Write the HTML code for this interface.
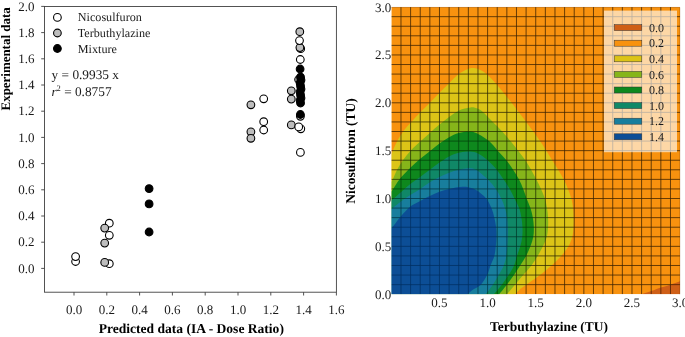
<!DOCTYPE html>
<html><head><meta charset="utf-8"><title>Figure</title>
<style>
html,body{margin:0;padding:0;background:#fff;}
body{width:685px;height:337px;overflow:hidden;font-family:"Liberation Serif",serif;}
</style></head>
<body>
<svg width="685" height="337" viewBox="0 0 685 337" style="display:block;font-family:'Liberation Serif', serif;will-change:transform;text-rendering:geometricPrecision">
<rect x="0" y="0" width="685" height="337" fill="#ffffff"/>
<g stroke="#404040" stroke-width="0.9" fill="none">
<rect x="44.5" y="6.45" width="291.90" height="285.75"/>
<line x1="41.20" y1="268.40" x2="44.5" y2="268.40"/>
<line x1="41.20" y1="242.20" x2="44.5" y2="242.20"/>
<line x1="41.20" y1="216.00" x2="44.5" y2="216.00"/>
<line x1="41.20" y1="189.80" x2="44.5" y2="189.80"/>
<line x1="41.20" y1="163.60" x2="44.5" y2="163.60"/>
<line x1="41.20" y1="137.40" x2="44.5" y2="137.40"/>
<line x1="41.20" y1="111.20" x2="44.5" y2="111.20"/>
<line x1="41.20" y1="85.00" x2="44.5" y2="85.00"/>
<line x1="41.20" y1="58.80" x2="44.5" y2="58.80"/>
<line x1="41.20" y1="32.60" x2="44.5" y2="32.60"/>
<line x1="41.20" y1="6.40" x2="44.5" y2="6.40"/>
<line x1="74.00" y1="292.2" x2="74.00" y2="295.50"/>
<line x1="106.80" y1="292.2" x2="106.80" y2="295.50"/>
<line x1="139.60" y1="292.2" x2="139.60" y2="295.50"/>
<line x1="172.40" y1="292.2" x2="172.40" y2="295.50"/>
<line x1="205.20" y1="292.2" x2="205.20" y2="295.50"/>
<line x1="238.00" y1="292.2" x2="238.00" y2="295.50"/>
<line x1="270.80" y1="292.2" x2="270.80" y2="295.50"/>
<line x1="303.60" y1="292.2" x2="303.60" y2="295.50"/>
<line x1="336.40" y1="292.2" x2="336.40" y2="295.50"/>
</g>
<g fill="#1a1a1a" font-size="13px">
<text x="34.4" y="272.55" text-anchor="end">0.0</text>
<text x="34.4" y="246.35" text-anchor="end">0.2</text>
<text x="34.4" y="220.15" text-anchor="end">0.4</text>
<text x="34.4" y="193.95" text-anchor="end">0.6</text>
<text x="34.4" y="167.75" text-anchor="end">0.8</text>
<text x="34.4" y="141.55" text-anchor="end">1.0</text>
<text x="34.4" y="115.35" text-anchor="end">1.2</text>
<text x="34.4" y="89.15" text-anchor="end">1.4</text>
<text x="34.4" y="62.95" text-anchor="end">1.6</text>
<text x="34.4" y="36.75" text-anchor="end">1.8</text>
<text x="34.4" y="10.55" text-anchor="end">2.0</text>
<text x="74.00" y="314.4" text-anchor="middle">0.0</text>
<text x="106.80" y="314.4" text-anchor="middle">0.2</text>
<text x="139.60" y="314.4" text-anchor="middle">0.4</text>
<text x="172.40" y="314.4" text-anchor="middle">0.6</text>
<text x="205.20" y="314.4" text-anchor="middle">0.8</text>
<text x="238.00" y="314.4" text-anchor="middle">1.0</text>
<text x="270.80" y="314.4" text-anchor="middle">1.2</text>
<text x="303.60" y="314.4" text-anchor="middle">1.4</text>
<text x="336.40" y="314.4" text-anchor="middle">1.6</text>
</g>
<text x="191.3" y="332.9" text-anchor="middle" font-size="13.55px" font-weight="bold" fill="#000">Predicted data (IA - Dose Ratio)</text>
<text transform="translate(10.1,58.9) rotate(-90)" text-anchor="middle" font-size="12.95px" font-weight="bold" fill="#000">Experimental data</text>
<circle cx="57.40" cy="17.40" r="3.85" fill="#ffffff" stroke="#000" stroke-width="1.1"/>
<circle cx="57.40" cy="33.00" r="3.85" fill="#bdbdbd" stroke="#000" stroke-width="1.1"/>
<circle cx="57.40" cy="48.50" r="3.85" fill="#000000" stroke="#000" stroke-width="1.1"/>
<g fill="#1a1a1a" font-size="12.15px">
<text x="77.8" y="21.3">Nicosulfuron</text>
<text x="77.8" y="36.9">Terbuthylazine</text>
<text x="77.8" y="52.9">Mixture</text>
</g>
<g fill="#1a1a1a" font-size="13.3px">
<text x="51.6" y="79.4">y = 0.9935 x</text>
<text x="51.4" y="95.8"><tspan font-style="italic">r</tspan><tspan font-size="8.5px" dy="-5">2</tspan><tspan dy="5"> = 0.8757</tspan></text>
</g>
<circle cx="75.60" cy="261.50" r="3.85" fill="#ffffff" stroke="#000" stroke-width="1.1"/>
<circle cx="75.60" cy="256.60" r="3.85" fill="#ffffff" stroke="#000" stroke-width="1.1"/>
<circle cx="109.30" cy="223.20" r="3.85" fill="#ffffff" stroke="#000" stroke-width="1.1"/>
<circle cx="104.70" cy="228.10" r="3.85" fill="#bdbdbd" stroke="#000" stroke-width="1.1"/>
<circle cx="109.30" cy="235.30" r="3.85" fill="#ffffff" stroke="#000" stroke-width="1.1"/>
<circle cx="104.70" cy="243.10" r="3.85" fill="#bdbdbd" stroke="#000" stroke-width="1.1"/>
<circle cx="109.30" cy="263.70" r="3.85" fill="#ffffff" stroke="#000" stroke-width="1.1"/>
<circle cx="104.70" cy="262.40" r="3.85" fill="#bdbdbd" stroke="#000" stroke-width="1.1"/>
<circle cx="149.10" cy="188.60" r="3.85" fill="#000000" stroke="#000" stroke-width="1.1"/>
<circle cx="149.10" cy="203.90" r="3.85" fill="#000000" stroke="#000" stroke-width="1.1"/>
<circle cx="149.10" cy="232.00" r="3.85" fill="#000000" stroke="#000" stroke-width="1.1"/>
<circle cx="250.90" cy="104.80" r="3.85" fill="#bdbdbd" stroke="#000" stroke-width="1.1"/>
<circle cx="250.90" cy="131.80" r="3.85" fill="#bdbdbd" stroke="#000" stroke-width="1.1"/>
<circle cx="250.90" cy="138.30" r="3.85" fill="#bdbdbd" stroke="#000" stroke-width="1.1"/>
<circle cx="263.70" cy="98.80" r="3.85" fill="#ffffff" stroke="#000" stroke-width="1.1"/>
<circle cx="263.70" cy="121.70" r="3.85" fill="#ffffff" stroke="#000" stroke-width="1.1"/>
<circle cx="263.70" cy="130.00" r="3.85" fill="#ffffff" stroke="#000" stroke-width="1.1"/>
<circle cx="291.30" cy="90.80" r="3.85" fill="#bdbdbd" stroke="#000" stroke-width="1.1"/>
<circle cx="291.30" cy="99.10" r="3.85" fill="#bdbdbd" stroke="#000" stroke-width="1.1"/>
<circle cx="291.30" cy="124.90" r="3.85" fill="#bdbdbd" stroke="#000" stroke-width="1.1"/>
<circle cx="300.40" cy="152.40" r="3.85" fill="#ffffff" stroke="#000" stroke-width="1.1"/>
<circle cx="300.80" cy="128.80" r="3.85" fill="#ffffff" stroke="#000" stroke-width="1.1"/>
<circle cx="298.70" cy="126.90" r="3.85" fill="#ffffff" stroke="#000" stroke-width="1.1"/>
<circle cx="300.40" cy="116.30" r="3.85" fill="#ffffff" stroke="#000" stroke-width="1.1"/>
<circle cx="300.70" cy="48.70" r="3.85" fill="#ffffff" stroke="#000" stroke-width="1.1"/>
<circle cx="299.90" cy="47.60" r="3.85" fill="#bdbdbd" stroke="#000" stroke-width="1.1"/>
<circle cx="299.50" cy="40.60" r="3.85" fill="#ffffff" stroke="#000" stroke-width="1.1"/>
<circle cx="299.80" cy="31.70" r="3.85" fill="#bdbdbd" stroke="#000" stroke-width="1.1"/>
<circle cx="300.30" cy="59.50" r="3.85" fill="#ffffff" stroke="#000" stroke-width="1.1"/>
<circle cx="298.60" cy="79.50" r="3.85" fill="#bdbdbd" stroke="#000" stroke-width="1.1"/>
<circle cx="300.40" cy="114.50" r="3.85" fill="#000000" stroke="#000" stroke-width="1.1"/>
<circle cx="300.10" cy="69.00" r="3.85" fill="#000000" stroke="#000" stroke-width="1.1"/>
<circle cx="300.55" cy="77.20" r="3.85" fill="#000000" stroke="#000" stroke-width="1.1"/>
<circle cx="301.00" cy="80.00" r="3.85" fill="#000000" stroke="#000" stroke-width="1.1"/>
<circle cx="300.10" cy="83.00" r="3.85" fill="#000000" stroke="#000" stroke-width="1.1"/>
<circle cx="300.55" cy="86.00" r="3.85" fill="#000000" stroke="#000" stroke-width="1.1"/>
<circle cx="301.00" cy="89.00" r="3.85" fill="#000000" stroke="#000" stroke-width="1.1"/>
<circle cx="300.10" cy="92.00" r="3.85" fill="#000000" stroke="#000" stroke-width="1.1"/>
<circle cx="300.55" cy="95.00" r="3.85" fill="#000000" stroke="#000" stroke-width="1.1"/>
<circle cx="301.00" cy="98.00" r="3.85" fill="#000000" stroke="#000" stroke-width="1.1"/>
<circle cx="300.10" cy="100.50" r="3.85" fill="#000000" stroke="#000" stroke-width="1.1"/>
<circle cx="300.55" cy="103.00" r="3.85" fill="#000000" stroke="#000" stroke-width="1.1"/>
<clipPath id="rc"><rect x="391.35" y="7.10" width="288.75" height="287.10"/></clipPath>
<g clip-path="url(#rc)">
<rect x="391.35" y="7.10" width="288.75" height="287.10" fill="#f8920f"/>
<path d="M391.35,154.48 C392.09,152.72 394.17,147.22 395.78,143.95 C397.38,140.68 399.23,137.60 400.98,134.86 C402.72,132.12 404.31,129.88 406.27,127.49 C408.23,125.10 410.39,123.02 412.72,120.50 C415.04,117.98 417.37,115.32 420.23,112.37 C423.08,109.42 426.64,106.07 429.85,102.80 C433.06,99.53 436.27,96.02 439.48,92.75 C442.68,89.48 445.89,86.29 449.10,83.18 C452.31,80.07 455.68,76.40 458.73,74.09 C461.77,71.78 464.90,70.31 467.39,69.30 C469.87,68.30 471.40,67.90 473.64,68.06 C475.89,68.22 478.70,69.26 480.86,70.26 C483.03,71.27 484.10,71.86 486.64,74.09 C489.17,76.32 493.18,80.47 496.07,83.66 C498.96,86.85 501.36,90.04 503.96,93.23 C506.56,96.42 509.18,99.61 511.66,102.80 C514.15,105.99 516.48,109.18 518.88,112.37 C521.29,115.56 523.69,118.75 526.10,121.94 C528.51,125.13 530.99,128.32 533.32,131.51 C535.64,134.70 537.89,137.89 540.06,141.08 C542.22,144.27 544.28,147.46 546.31,150.65 C548.35,153.84 550.31,157.03 552.28,160.22 C554.25,163.41 556.26,166.60 558.15,169.79 C560.04,172.98 562.00,176.17 563.64,179.36 C565.27,182.55 566.69,185.74 567.97,188.93 C569.25,192.12 570.49,195.31 571.34,198.50 C572.19,201.69 572.67,204.88 573.07,208.07 C573.47,211.26 573.66,214.45 573.74,217.64 C573.82,220.83 573.79,224.02 573.55,227.21 C573.31,230.40 573.15,233.59 572.30,236.78 C571.45,239.97 570.29,243.16 568.45,246.35 C566.61,249.54 564.04,252.73 561.23,255.92 C558.42,259.11 555.14,262.30 551.61,265.49 C548.08,268.68 544.47,271.71 540.06,275.06 C535.64,278.41 528.59,283.11 525.14,285.59 C521.69,288.06 521.05,288.46 519.36,289.89 C517.68,291.33 515.75,293.48 515.03,294.20 L391.35,294.20 Z" fill="#dcc417"/>
<path d="M391.35,182.23 C391.59,181.75 391.83,181.43 392.79,179.36 C393.76,177.29 395.44,172.98 397.12,169.79 C398.81,166.60 400.65,163.41 402.90,160.22 C405.15,157.03 407.71,153.76 410.60,150.65 C413.49,147.54 417.02,144.51 420.23,141.56 C423.43,138.61 426.64,135.77 429.85,132.95 C433.06,130.12 436.27,127.28 439.48,124.62 C442.68,121.96 445.89,119.29 449.10,116.96 C452.31,114.63 455.52,112.18 458.73,110.65 C461.93,109.12 465.78,108.32 468.35,107.78 C470.92,107.23 471.88,106.87 474.12,107.39 C476.37,107.92 478.70,108.51 481.83,110.93 C484.95,113.36 489.49,118.51 492.89,121.94 C496.29,125.37 499.31,128.32 502.23,131.51 C505.15,134.70 507.76,137.89 510.41,141.08 C513.06,144.27 515.62,147.46 518.11,150.65 C520.60,153.84 523.16,157.03 525.33,160.22 C527.50,163.41 529.29,166.60 531.11,169.79 C532.92,172.98 534.55,176.17 536.21,179.36 C537.86,182.55 539.57,185.74 541.02,188.93 C542.46,192.12 543.87,195.31 544.87,198.50 C545.86,201.69 546.46,204.88 546.99,208.07 C547.52,211.26 547.87,214.45 548.05,217.64 C548.22,220.83 548.25,224.02 548.05,227.21 C547.84,230.40 547.64,233.59 546.79,236.78 C545.94,239.97 544.47,243.16 542.94,246.35 C541.42,249.54 539.58,252.73 537.65,255.92 C535.73,259.11 533.80,262.30 531.39,265.49 C528.99,268.68 525.94,271.87 523.21,275.06 C520.49,278.25 517.76,281.44 515.03,284.63 C512.30,287.82 508.21,292.61 506.85,294.20 L391.35,294.20 Z" fill="#86b51a"/>
<path d="M391.35,191.80 C392.15,190.52 394.56,186.54 396.16,184.14 C397.77,181.75 398.57,180.24 400.98,177.45 C403.38,174.65 407.39,170.51 410.60,167.40 C413.81,164.29 417.02,161.50 420.23,158.78 C423.43,156.07 426.64,153.68 429.85,151.13 C433.06,148.58 436.27,145.79 439.48,143.47 C442.68,141.16 445.89,139.01 449.10,137.25 C452.31,135.50 455.20,133.90 458.73,132.95 C462.25,131.99 466.91,131.27 470.28,131.51 C473.64,131.75 475.81,132.79 478.94,134.38 C482.07,135.98 485.92,138.37 489.04,141.08 C492.17,143.79 494.82,147.46 497.71,150.65 C500.59,153.84 503.80,157.03 506.37,160.22 C508.94,163.41 511.02,166.60 513.11,169.79 C515.19,172.98 517.20,176.17 518.88,179.36 C520.57,182.55 521.93,185.74 523.21,188.93 C524.50,192.12 525.38,195.31 526.58,198.50 C527.78,201.69 529.39,204.88 530.43,208.07 C531.47,211.26 532.28,214.45 532.84,217.64 C533.40,220.83 533.72,224.02 533.80,227.21 C533.88,230.40 533.88,233.59 533.32,236.78 C532.76,239.97 531.63,243.16 530.43,246.35 C529.23,249.54 527.82,252.73 526.10,255.92 C524.38,259.11 522.15,262.30 520.13,265.49 C518.11,268.68 516.19,271.87 513.97,275.06 C511.76,278.25 509.32,281.44 506.85,284.63 C504.38,287.82 500.43,292.61 499.15,294.20 L391.35,294.20 Z" fill="#0e881d"/>
<path d="M391.35,200.41 C392.95,199.04 397.77,194.94 400.98,192.18 C404.18,189.42 407.39,186.39 410.60,183.86 C413.81,181.32 417.02,179.31 420.23,176.97 C423.43,174.62 426.64,172.18 429.85,169.79 C433.06,167.40 436.27,164.85 439.48,162.61 C442.68,160.38 445.89,158.02 449.10,156.39 C452.31,154.77 455.20,153.65 458.73,152.85 C462.25,152.05 467.07,151.50 470.28,151.61 C473.48,151.72 475.09,152.09 477.98,153.52 C480.86,154.96 484.47,157.51 487.60,160.22 C490.73,162.93 494.10,166.60 496.74,169.79 C499.39,172.98 501.32,176.17 503.48,179.36 C505.65,182.55 507.89,185.74 509.74,188.93 C511.58,192.12 512.98,195.31 514.55,198.50 C516.12,201.69 518.02,204.88 519.17,208.07 C520.33,211.26 520.93,214.45 521.48,217.64 C522.03,220.83 522.31,224.02 522.44,227.21 C522.57,230.40 522.60,233.59 522.25,236.78 C521.90,239.97 521.21,243.16 520.33,246.35 C519.44,249.54 518.00,252.73 516.96,255.92 C515.91,259.11 515.46,262.30 514.07,265.49 C512.67,268.68 510.62,271.87 508.58,275.06 C506.55,278.25 504.30,281.44 501.85,284.63 C499.39,287.82 495.19,292.61 493.86,294.20 L391.35,294.20 Z" fill="#108867"/>
<path d="M391.35,209.22 C392.95,207.94 397.77,203.95 400.98,201.56 C404.18,199.17 407.39,196.97 410.60,194.86 C413.81,192.76 417.02,191.04 420.23,188.93 C423.43,186.82 426.64,184.22 429.85,182.23 C433.06,180.24 436.27,178.56 439.48,176.97 C442.68,175.37 445.89,173.86 449.10,172.66 C452.31,171.46 455.52,170.54 458.73,169.79 C461.93,169.04 465.46,168.16 468.35,168.16 C471.24,168.16 472.84,167.92 476.05,169.79 C479.26,171.66 484.31,176.17 487.60,179.36 C490.89,182.55 493.50,185.74 495.78,188.93 C498.06,192.12 499.74,195.31 501.27,198.50 C502.79,201.69 503.95,204.88 504.93,208.07 C505.90,211.26 506.66,214.45 507.14,217.64 C507.62,220.83 507.70,224.02 507.81,227.21 C507.92,230.40 507.89,233.59 507.81,236.78 C507.73,239.97 507.57,243.16 507.33,246.35 C507.09,249.54 506.96,252.73 506.37,255.92 C505.78,259.11 505.05,262.30 503.77,265.49 C502.49,268.68 500.48,271.87 498.67,275.06 C496.86,278.25 495.06,281.44 492.89,284.63 C490.73,287.82 486.88,292.61 485.68,294.20 L391.35,294.20 Z" fill="#187e9d"/>
<path d="M391.35,228.45 C392.09,227.53 394.17,224.93 395.78,222.90 C397.38,220.88 398.50,219.06 400.98,216.30 C403.45,213.54 407.39,208.92 410.60,206.35 C413.81,203.78 417.02,202.60 420.23,200.89 C423.43,199.19 426.64,197.62 429.85,196.11 C433.06,194.59 436.27,193.00 439.48,191.80 C442.68,190.60 445.25,189.76 449.10,188.93 C452.95,188.10 459.05,187.02 462.58,186.82 C466.10,186.63 467.95,187.19 470.28,187.78 C472.60,188.37 473.88,188.58 476.53,190.37 C479.18,192.15 483.67,195.55 486.16,198.50 C488.64,201.45 490.09,204.88 491.45,208.07 C492.81,211.26 493.57,214.45 494.34,217.64 C495.11,220.83 495.72,224.02 496.07,227.21 C496.42,230.40 496.50,233.59 496.46,236.78 C496.41,239.97 496.13,243.16 495.78,246.35 C495.43,249.54 495.22,252.73 494.34,255.92 C493.46,259.11 491.69,262.30 490.49,265.49 C489.28,268.68 488.72,271.87 487.12,275.06 C485.51,278.25 483.19,282.24 480.86,284.63 C478.54,287.02 475.41,287.82 473.16,289.41 C470.92,291.01 468.35,293.40 467.39,294.20 L391.35,294.20 Z" fill="#0c4e96"/>
<path d="M642.08,294.20 C643.61,293.67 647.94,292.21 651.23,291.04 C654.51,289.88 658.76,288.23 661.81,287.21 C664.86,286.19 666.46,285.91 669.51,284.92 C672.56,283.93 678.34,281.89 680.10,281.28 L680.10,294.20 Z" fill="#cf5f17"/>
<g stroke="#282828" stroke-opacity="0.92" stroke-width="0.85" style="mix-blend-mode:luminosity">
<line x1="400.98" y1="7.10" x2="400.98" y2="294.20"/>
<line x1="410.60" y1="7.10" x2="410.60" y2="294.20"/>
<line x1="420.23" y1="7.10" x2="420.23" y2="294.20"/>
<line x1="429.85" y1="7.10" x2="429.85" y2="294.20"/>
<line x1="439.48" y1="7.10" x2="439.48" y2="294.20"/>
<line x1="449.10" y1="7.10" x2="449.10" y2="294.20"/>
<line x1="458.73" y1="7.10" x2="458.73" y2="294.20"/>
<line x1="468.35" y1="7.10" x2="468.35" y2="294.20"/>
<line x1="477.98" y1="7.10" x2="477.98" y2="294.20"/>
<line x1="487.60" y1="7.10" x2="487.60" y2="294.20"/>
<line x1="497.23" y1="7.10" x2="497.23" y2="294.20"/>
<line x1="506.85" y1="7.10" x2="506.85" y2="294.20"/>
<line x1="516.48" y1="7.10" x2="516.48" y2="294.20"/>
<line x1="526.10" y1="7.10" x2="526.10" y2="294.20"/>
<line x1="535.73" y1="7.10" x2="535.73" y2="294.20"/>
<line x1="545.35" y1="7.10" x2="545.35" y2="294.20"/>
<line x1="554.98" y1="7.10" x2="554.98" y2="294.20"/>
<line x1="564.60" y1="7.10" x2="564.60" y2="294.20"/>
<line x1="574.23" y1="7.10" x2="574.23" y2="294.20"/>
<line x1="583.85" y1="7.10" x2="583.85" y2="294.20"/>
<line x1="593.48" y1="7.10" x2="593.48" y2="294.20"/>
<line x1="603.10" y1="7.10" x2="603.10" y2="294.20"/>
<line x1="612.73" y1="7.10" x2="612.73" y2="294.20"/>
<line x1="622.35" y1="7.10" x2="622.35" y2="294.20"/>
<line x1="631.98" y1="7.10" x2="631.98" y2="294.20"/>
<line x1="641.60" y1="7.10" x2="641.60" y2="294.20"/>
<line x1="651.23" y1="7.10" x2="651.23" y2="294.20"/>
<line x1="660.85" y1="7.10" x2="660.85" y2="294.20"/>
<line x1="670.48" y1="7.10" x2="670.48" y2="294.20"/>
<line x1="391.35" y1="284.63" x2="680.10" y2="284.63"/>
<line x1="391.35" y1="275.06" x2="680.10" y2="275.06"/>
<line x1="391.35" y1="265.49" x2="680.10" y2="265.49"/>
<line x1="391.35" y1="255.92" x2="680.10" y2="255.92"/>
<line x1="391.35" y1="246.35" x2="680.10" y2="246.35"/>
<line x1="391.35" y1="236.78" x2="680.10" y2="236.78"/>
<line x1="391.35" y1="227.21" x2="680.10" y2="227.21"/>
<line x1="391.35" y1="217.64" x2="680.10" y2="217.64"/>
<line x1="391.35" y1="208.07" x2="680.10" y2="208.07"/>
<line x1="391.35" y1="198.50" x2="680.10" y2="198.50"/>
<line x1="391.35" y1="188.93" x2="680.10" y2="188.93"/>
<line x1="391.35" y1="179.36" x2="680.10" y2="179.36"/>
<line x1="391.35" y1="169.79" x2="680.10" y2="169.79"/>
<line x1="391.35" y1="160.22" x2="680.10" y2="160.22"/>
<line x1="391.35" y1="150.65" x2="680.10" y2="150.65"/>
<line x1="391.35" y1="141.08" x2="680.10" y2="141.08"/>
<line x1="391.35" y1="131.51" x2="680.10" y2="131.51"/>
<line x1="391.35" y1="121.94" x2="680.10" y2="121.94"/>
<line x1="391.35" y1="112.37" x2="680.10" y2="112.37"/>
<line x1="391.35" y1="102.80" x2="680.10" y2="102.80"/>
<line x1="391.35" y1="93.23" x2="680.10" y2="93.23"/>
<line x1="391.35" y1="83.66" x2="680.10" y2="83.66"/>
<line x1="391.35" y1="74.09" x2="680.10" y2="74.09"/>
<line x1="391.35" y1="64.52" x2="680.10" y2="64.52"/>
<line x1="391.35" y1="54.95" x2="680.10" y2="54.95"/>
<line x1="391.35" y1="45.38" x2="680.10" y2="45.38"/>
<line x1="391.35" y1="35.81" x2="680.10" y2="35.81"/>
<line x1="391.35" y1="26.24" x2="680.10" y2="26.24"/>
<line x1="391.35" y1="16.67" x2="680.10" y2="16.67"/>
</g>
</g>
<path d="M391.35,7.40 H679.80 V294.20" fill="none" stroke="#6a3000" stroke-opacity="0.35" stroke-width="0.8"/>
<rect x="604" y="10.6" width="73" height="141.6" fill="#ffffff" fill-opacity="0.63"/>
<g font-size="12px" fill="#1a1a1a">
<rect x="614.2" y="24.60" width="27.6" height="6" fill="#cf5f17" stroke="#333" stroke-width="0.5"/>
<text x="649" y="31.70">0.0</text>
<rect x="614.2" y="40.20" width="27.6" height="6" fill="#f8920f" stroke="#333" stroke-width="0.5"/>
<text x="649" y="47.30">0.2</text>
<rect x="614.2" y="55.80" width="27.6" height="6" fill="#dcc417" stroke="#333" stroke-width="0.5"/>
<text x="649" y="62.90">0.4</text>
<rect x="614.2" y="71.40" width="27.6" height="6" fill="#86b51a" stroke="#333" stroke-width="0.5"/>
<text x="649" y="78.50">0.6</text>
<rect x="614.2" y="87.00" width="27.6" height="6" fill="#0e881d" stroke="#333" stroke-width="0.5"/>
<text x="649" y="94.10">0.8</text>
<rect x="614.2" y="102.60" width="27.6" height="6" fill="#108867" stroke="#333" stroke-width="0.5"/>
<text x="649" y="109.70">1.0</text>
<rect x="614.2" y="118.20" width="27.6" height="6" fill="#187e9d" stroke="#333" stroke-width="0.5"/>
<text x="649" y="125.30">1.2</text>
<rect x="614.2" y="133.80" width="27.6" height="6" fill="#0c4e96" stroke="#333" stroke-width="0.5"/>
<text x="649" y="140.90">1.4</text>
</g>
<g fill="#1a1a1a" font-size="13px">
<text x="391.2" y="298.70" text-anchor="end">0.0</text>
<text x="391.2" y="250.85" text-anchor="end">0.5</text>
<text x="391.2" y="203.00" text-anchor="end">1.0</text>
<text x="391.2" y="155.15" text-anchor="end">1.5</text>
<text x="391.2" y="107.30" text-anchor="end">2.0</text>
<text x="391.2" y="59.45" text-anchor="end">2.5</text>
<text x="391.2" y="11.60" text-anchor="end">3.0</text>
<text x="439.48" y="306.7" text-anchor="middle">0.5</text>
<text x="487.60" y="306.7" text-anchor="middle">1.0</text>
<text x="535.73" y="306.7" text-anchor="middle">1.5</text>
<text x="583.85" y="306.7" text-anchor="middle">2.0</text>
<text x="631.98" y="306.7" text-anchor="middle">2.5</text>
<text x="680.10" y="306.7" text-anchor="middle">3.0</text>
</g>
<text x="549.0" y="330.5" text-anchor="middle" font-size="13.45px" font-weight="bold" fill="#000">Terbuthylazine (TU)</text>
<text transform="translate(355.2,151.0) rotate(-90)" text-anchor="middle" font-size="13.45px" font-weight="bold" fill="#000">Nicosulfuron (TU)</text>
</svg>
</body></html>
